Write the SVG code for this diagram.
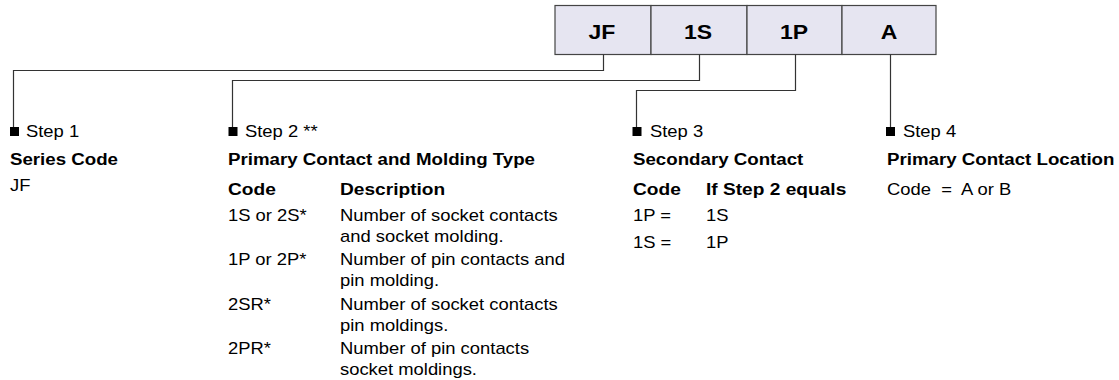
<svg xmlns="http://www.w3.org/2000/svg" width="1119" height="380" viewBox="0 0 1119 380">
<style>
text{font-family:"Liberation Sans",Arial,Helvetica,sans-serif;fill:#000;transform-box:fill-box;transform-origin:left center;transform:scaleX(1.15)}
.r{font-size:16px}
.h{font-size:17px;font-weight:bold;transform:scaleX(1.1)}
.ch{font-size:16.5px;font-weight:bold;transform:scaleX(1.16)}
.bx{font-size:20px;font-weight:bold;text-anchor:middle;transform-origin:center;transform:scaleX(1.15)}
.box{fill:#e6e5f1;stroke:#444;stroke-width:1.2}
.con{fill:none;stroke:#333;stroke-width:1.2}
.sq{fill:#000}
.pre{white-space:pre}
</style>
<g id="code-boxes">
<g id="box-JF"><rect class="box" x="555" y="5.5" width="96" height="49"/><text class="bx" x="602" y="39">JF</text></g>
<g id="box-1S"><rect class="box" x="651" y="5.5" width="96" height="49"/><text class="bx" x="698" y="39">1S</text></g>
<g id="box-1P"><rect class="box" x="747" y="5.5" width="95" height="49"/><text class="bx" x="794" y="39">1P</text></g>
<g id="box-A"><rect class="box" x="842" y="5.5" width="94" height="49"/><text class="bx" x="889" y="39">A</text></g>
</g>
<g id="connectors">
<path class="con" d="M603.5,54.5 V70.5 H13.5 V128"/>
<path class="con" d="M699.5,54.5 V80.5 H232.5 V128"/>
<path class="con" d="M795.5,54.5 V90.5 H636.5 V128"/>
<path class="con" d="M890.5,54.5 V128"/>
</g>
<g id="step1">
<rect class="sq" x="10" y="127" width="9" height="9"/>
<text class="r" x="26" y="137">Step 1</text>
<text class="h" x="10" y="165">Series Code</text>
<text class="r" x="10" y="191">JF</text>
</g>
<g id="step2">
<rect class="sq" x="228.5" y="127" width="9" height="9"/>
<text class="r" x="245" y="137">Step 2 **</text>
<text class="h" x="228" y="165">Primary Contact and Molding Type</text>
<text class="ch" x="228" y="195">Code</text>
<text class="ch" x="340" y="195">Description</text>
<text class="r" x="228" y="221">1S or 2S*</text>
<text class="r" x="340" y="221">Number of socket contacts</text>
<text class="r" x="340" y="242">and socket molding.</text>
<text class="r" x="228" y="265.5">1P or 2P*</text>
<text class="r" x="340" y="265.5">Number of pin contacts and</text>
<text class="r" x="340" y="286.5">pin molding.</text>
<text class="r" x="228" y="310">2SR*</text>
<text class="r" x="340" y="310">Number of socket contacts</text>
<text class="r" x="340" y="331">pin moldings.</text>
<text class="r" x="228" y="354.5">2PR*</text>
<text class="r" x="340" y="354.5">Number of pin contacts</text>
<text class="r" x="340" y="375.5">socket moldings.</text>
</g>
<g id="step3">
<rect class="sq" x="632.5" y="127" width="9" height="9"/>
<text class="r" x="650" y="137">Step 3</text>
<text class="h" x="633" y="165">Secondary Contact</text>
<text class="ch" x="633" y="195">Code</text>
<text class="ch" x="706" y="195">If Step 2 equals</text>
<text class="r" x="633" y="221">1P =</text>
<text class="r" x="706" y="221">1S</text>
<text class="r" x="633" y="248">1S =</text>
<text class="r" x="706" y="248">1P</text>
</g>
<g id="step4">
<rect class="sq" x="886" y="127" width="9" height="9"/>
<text class="r" x="903" y="137">Step 4</text>
<text class="h" x="887" y="165">Primary Contact Location</text>
<text class="r pre" x="887" y="195">Code  =  A or B</text>
</g>
</svg>
